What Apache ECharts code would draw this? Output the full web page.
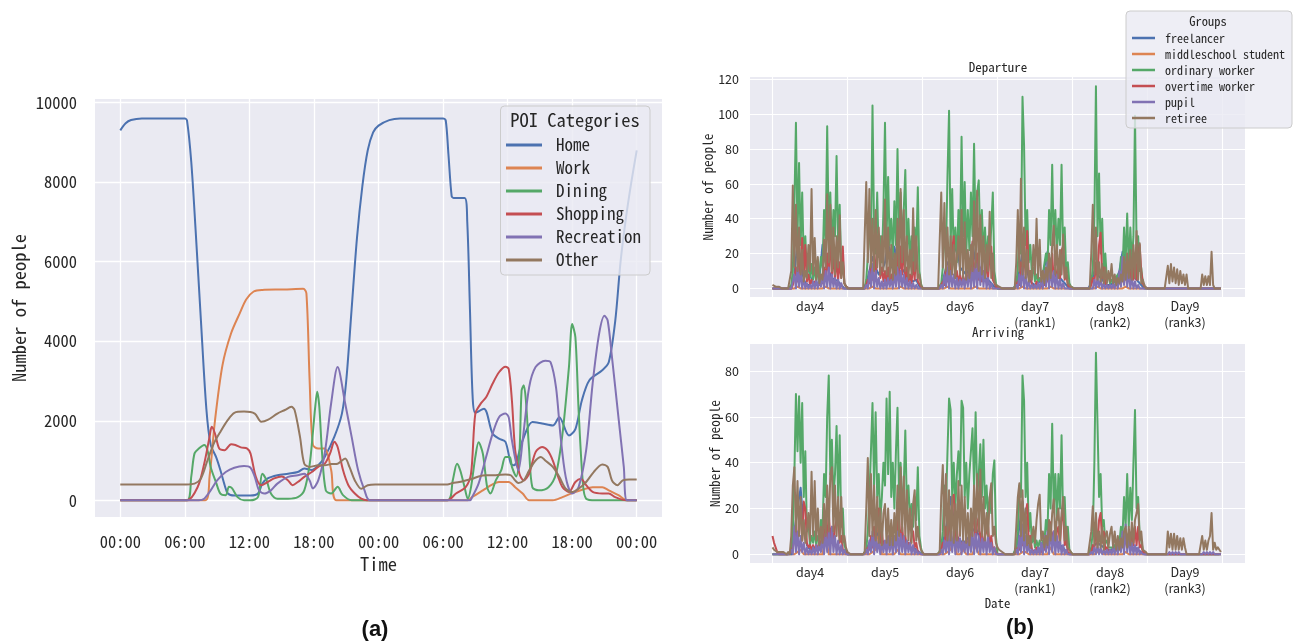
<!DOCTYPE html>
<html>
<head>
<meta charset="utf-8">
<script src="https://cdn.jsdelivr.net/npm/echarts@6/dist/echarts.min.js"></script>
<style>
html,body{margin:0;padding:0;background:#ffffff;}
#chart{width:1299px;height:644px;}
</style>
</head>
<body>
<div id="chart"></div>
<script>
// ---------- (a) number of people at each POI category over two days ----------
const poiNames = ['Home', 'Work', 'Dining', 'Shopping', 'Recreation', 'Other'];
const hourTicks = [0, 6, 12, 18, 24, 30, 36, 42, 48];
const countTicks = [0, 2000, 4000, 6000, 8000, 10000];

// [hour, people]
const homeCount = [[0,9300],[0.5,9480],[1,9560],[2,9600],[6,9600],[6.2,9550],[6.6,8500],[7,6800],[7.5,4500],[8,2300],[8.4,1400],[8.9,1090],[9.3,760],[9.7,380],[10,170],[10.6,120],[12.1,120],[12.8,170],[13.2,420],[13.7,550],[14.6,630],[15.6,670],[16.5,710],[17.1,800],[17.8,760],[18.4,880],[19,1090],[19.9,1600],[20.6,2180],[21,3000],[21.5,4800],[22,6600],[22.5,7900],[23,8800],[23.5,9250],[24,9420],[25,9560],[26,9600],[30,9600],[30.25,9550],[30.5,8700],[30.8,7650],[31,7600],[32,7600],[32.25,7000],[32.5,4800],[32.75,2600],[33,2200],[33.8,2300],[34.6,1680],[35.2,1550],[35.8,1470],[36.3,920],[36.6,880],[37.4,1510],[38.3,1970],[39.2,1930],[40.2,1880],[40.8,2090],[41.7,1630],[42.3,1790],[42.9,2510],[43.6,3020],[44.8,3270],[45.4,3470],[46,4500],[46.5,6000],[47,7100],[47.5,8000],[48,8800]];
const workCount = [[0,0],[7.9,0],[8.3,600],[8.8,2000],[9.5,3400],[10.3,4200],[11.1,4700],[11.7,5050],[12.4,5250],[13.2,5290],[15.2,5300],[17,5320],[17.3,5200],[17.6,3000],[17.9,1400],[18.4,1300],[19,1300],[19.6,760],[20.1,0],[32.3,0],[32.7,80],[33.7,250],[34.6,400],[35.2,460],[36.1,460],[36.7,330],[37.4,170],[38,0],[40.2,0],[41.1,80],[42,180],[43,270],[43.9,330],[44.8,330],[45.4,250],[46.3,130],[47.1,0],[48,0]];
const diningCount = [[0,0],[6.2,0],[6.6,600],[6.9,1180],[7.3,1300],[7.8,1390],[8.1,1260],[8.4,840],[8.9,450],[9.3,170],[9.8,130],[10.1,340],[10.4,300],[10.9,80],[11.5,0],[12.1,0],[12.8,80],[13.2,670],[13.6,500],[14,170],[14.6,40],[15.6,40],[16.5,80],[17.1,250],[17.6,900],[17.9,1700],[18.1,2300],[18.3,2730],[18.5,2350],[18.75,1200],[19.1,250],[19.6,170],[20.2,340],[20.7,130],[21.5,0],[30.4,0],[30.9,500],[31.3,920],[31.6,750],[32,330],[32.3,40],[32.6,330],[33,1090],[33.3,1460],[33.7,1170],[34.1,330],[34.4,170],[34.9,500],[35.4,750],[35.8,1090],[36.2,1090],[36.4,840],[36.8,600],[37.1,1200],[37.3,2760],[37.5,2890],[37.7,2510],[38,1260],[38.3,330],[38.9,250],[39.8,330],[40.5,670],[41.1,1670],[41.7,3350],[42,4430],[42.3,4100],[42.6,2260],[43,420],[43.3,40],[44.2,0],[48,0]];
const shoppingCount = [[0,0],[6.2,0],[7.2,340],[7.8,920],[8.3,1600],[8.5,1850],[8.8,1680],[9.2,1300],[9.7,1260],[10.3,1410],[10.7,1390],[11.2,1330],[11.8,1300],[12.1,1180],[12.6,590],[13.1,380],[13.7,460],[14.3,550],[15,600],[15.6,500],[16,380],[16.5,460],[17.1,590],[17.8,710],[18.4,840],[19,920],[19.5,1180],[19.9,1470],[20.2,1340],[20.7,760],[21.2,380],[21.8,170],[22.4,40],[22.9,0],[30.4,0],[31.2,170],[32.1,330],[32.6,670],[33,2180],[33.5,2430],[34,2590],[34.6,2930],[35.2,3220],[35.8,3360],[36.1,3300],[36.4,2510],[36.7,1260],[37.1,670],[37.5,500],[38,670],[38.6,1210],[39.2,1340],[39.7,1260],[40.2,1000],[40.7,590],[41.1,330],[41.7,210],[42.3,460],[42.8,540],[43.3,380],[43.9,210],[44.8,170],[45.4,170],[46,80],[47,0],[48,0]];
const recreationCount = [[0,0],[7.3,0],[7.8,40],[8.4,250],[9,500],[9.8,710],[10.6,820],[11.5,860],[12.1,820],[12.5,590],[12.9,250],[13.4,170],[14,250],[14.6,420],[15.6,590],[16.5,630],[17.1,670],[17.6,500],[17.9,300],[18.4,500],[19,1180],[19.6,2440],[20.2,3350],[20.9,2440],[21.5,1600],[22.1,760],[22.7,250],[23.2,0],[32.5,0],[32.7,80],[33.3,420],[34,1090],[34.6,1670],[35.2,2090],[35.8,2180],[36.1,2090],[36.4,1510],[37,750],[37.4,1510],[38,2840],[38.6,3350],[39.5,3510],[40,3470],[40.5,2840],[40.9,1670],[41.4,590],[42,170],[42.6,330],[43.3,1260],[43.9,2930],[44.5,4180],[45,4640],[45.3,4520],[45.7,3600],[46.3,2090],[46.8,840],[47.1,0],[48,0]];
const otherCount = [[0,400],[6.1,400],[6.9,420],[7.5,550],[8.1,1000],[8.7,1430],[9.3,1720],[10,2020],[10.6,2200],[11.5,2230],[12.5,2180],[13.1,1975],[13.7,2020],[14.6,2180],[15.3,2270],[15.9,2350],[16.2,2270],[16.7,1600],[17.1,920],[17.6,840],[18.4,880],[19,880],[19.6,910],[20.2,920],[20.9,1050],[21.3,840],[21.8,500],[22.4,290],[23,380],[23.7,400],[30.4,400],[30.9,435],[31.5,460],[32.1,500],[32.7,540],[33.3,600],[34,630],[34.9,630],[35.8,650],[36.3,630],[36.7,500],[37,435],[37.5,500],[38,750],[38.6,1000],[39.1,1090],[39.5,1000],[40.2,840],[40.8,590],[41.4,290],[42,210],[42.6,290],[43.3,460],[44,710],[44.8,900],[45.3,840],[45.7,500],[46.2,380],[46.7,500],[47.3,520],[48,520]];

// ---------- (b) departures / arrivals per group, day4 .. Day9 ----------
const groupNames = ['freelancer', 'middleschool student', 'ordinary worker', 'overtime worker', 'pupil', 'retiree'];
const dayBounds = [0, 24, 48, 72, 96, 120, 144];
const dayCentres = [12, 36, 60, 84, 108, 132];
const dayLabels = ['day4', 'day5', 'day6', 'day7\n(rank1)', 'day8\n(rank2)', 'Day9\n(rank3)'];
const depTicks = [0, 20, 40, 60, 80, 100, 120];
const arrTicks = [0, 20, 40, 60, 80];

// Departure, half-hourly (48 per day)
const depOrdinary = [
  [0,0,0,0,0,0,0,0,0,0,0,0, 2,10,48,95,30,72,25,55,15,30,8,14, 6,14,5,12,4,10,8,18,12,45,28,93, 30,55,22,45,30,76,25,48,10,18,3,1],
  [0,0,0,0,0,0,0,0,0,0,0,0, 5,18,40,22,105,35,20,55,18,30,15,45, 95,30,64,25,40,18,50,25,80,30,55,25, 45,68,20,40,15,30,12,35,20,58,10,3],
  [0,0,0,0,0,0,0,0,0,0,0,0, 3,12,35,20,65,102,25,57,18,35,15,45, 25,87,30,61,20,45,22,55,30,83,30,55, 62,25,45,20,35,15,30,18,35,55,10,3],
  [0,0,0,0,0,0,0,0,0,0,0,0, 2,12,35,20,110,82,25,45,15,25,8,12, 4,8,4,6,4,8,8,20,12,45,25,71, 25,45,20,40,25,71,20,35,8,15,3,1],
  [0,0,0,0,0,0,0,0,0,0,0,0, 3,12,40,116,30,66,20,40,10,20,5,8, 3,5,3,5,4,8,6,18,10,35,15,43, 12,35,15,30,99,25,30,10,12,3,1,0],
  [0,0,0,0,0,0,0,0,0,0,0,0, 0,0,0,0,0,0,0,0,0,0,0,0, 0,0,0,0,0,0,0,0,0,0,0,0, 0,0,0,0,0,0,0,0,0,0,0,0]
];
const depOvertime = [
  [0,0,0,0,0,0,0,0,0,0,0,0, 0,2,6,12,4,18,5,29,8,25,4,8, 2,5,2,4,2,3,2,6,3,12,5,20, 8,33,6,22,5,18,5,15,6,24,3,1],
  [0,0,0,0,0,0,0,0,0,0,0,0, 2,5,3,15,5,20,6,25,31,6,12,4, 10,3,12,3,8,4,15,5,26,6,24,8, 26,5,12,4,8,3,15,5,24,4,5,1],
  [0,0,0,0,0,0,0,0,0,0,0,0, 1,4,2,12,4,18,5,22,30,6,10,3, 8,3,7,2,8,3,15,5,27,6,15,20, 5,12,4,10,5,15,6,20,24,5,4,1],
  [0,0,0,0,0,0,0,0,0,0,0,0, 1,4,2,15,5,22,8,33,6,10,2,3, 1,4,1,2,1,4,2,10,4,18,5,20, 4,12,4,15,5,22,24,5,8,2,1,0],
  [0,0,0,0,0,0,0,0,0,0,0,0, 2,6,3,15,5,25,32,6,12,3,3,1, 2,1,2,1,3,1,5,2,10,3,10,4, 14,4,16,5,20,5,18,25,10,3,1,0],
  [0,0,0,0,0,0,0,0,0,0,0,0, 0,0,0,0,0,0,0,0,0,0,0,0, 0,0,0,0,0,0,0,0,0,0,0,0, 0,0,0,0,0,0,0,0,0,0,0,0]
];
const depPupil = [
  [0,0,0,0,0,0,0,0,0,0,0,0, 0,1,8,0,12,1,10,0,6,0,3,0, 2,0,4,0,5,0,6,1,8,0,10,1, 12,0,8,1,6,0,5,0,3,0,1,0],
  [0,0,0,0,0,0,0,0,0,0,0,0, 2,0,10,1,14,0,10,1,6,0,4,0, 5,0,6,1,5,0,8,1,12,0,10,1, 8,0,6,0,4,0,3,0,2,0,0,0],
  [0,0,0,0,0,0,0,0,0,0,0,0, 2,0,8,1,12,0,10,1,8,0,6,0, 5,1,6,0,8,1,10,0,12,1,14,0, 16,2,17,1,10,0,6,0,3,0,1,0],
  [0,0,0,0,0,0,0,0,0,0,0,0, 2,0,8,1,12,0,8,0,4,0,2,0, 2,0,3,0,5,0,10,1,15,0,12,1, 10,0,8,0,5,0,3,0,1,0,0,0],
  [0,0,0,0,0,0,0,0,0,0,0,0, 1,0,5,0,6,1,5,0,3,0,2,0, 2,0,3,0,5,0,10,1,18,2,15,1, 10,0,6,0,4,0,2,0,1,0,0,0],
  [0,0,0,0,0,0,0,0,0,0,0,0, 0,0,0,0,0,0,0,0,0,0,0,0, 0,0,0,0,0,0,0,0,0,0,0,0, 0,0,0,0,0,0,0,0,0,0,0,0]
];
const depRetiree = [
  [2,1,1,0,1,0,0,0,0,0,0,0, 10,59,12,48,10,35,8,22,4,10,6,25, 10,57,8,29,5,18,3,8,5,28,12,54, 15,48,10,35,8,30,12,42,6,15,3,2],
  [0,0,0,0,0,0,0,0,0,0,0,1, 61,15,57,12,40,10,45,12,35,8,30,10, 51,8,35,6,25,5,20,8,40,12,57,15, 45,10,30,6,22,8,46,10,30,6,8,2],
  [0,0,0,0,0,0,0,0,0,0,0,1, 55,12,49,10,35,8,30,8,25,6,18,30, 8,45,6,38,5,22,6,25,10,50,12,56, 10,42,8,30,6,25,10,44,6,20,4,2],
  [2,1,2,0,0,0,0,0,0,0,0,0, 15,45,10,63,8,35,6,22,4,10,5,25, 8,40,6,28,4,10,3,12,5,20,6,25, 36,8,25,6,22,8,31,6,12,3,3,1],
  [0,0,0,0,0,0,0,0,0,0,0,0, 20,48,8,35,5,15,4,14,3,12,3,10, 4,14,3,8,2,6,3,8,4,18,5,20, 6,22,5,25,6,33,5,26,3,5,2,0],
  [0,0,0,0,0,0,0,0,0,0,0,0, 0,13,3,14,4,12,3,11,2,10,3,8, 2,8,0,0,0,0,0,0,0,0,0,8, 2,7,2,7,2,21,2,0,0,0,0,0]
];
// Departure, hourly (24 per day)
const depFreelancer = [
  [0,0,0,0,0,0,0,8,27,15,5,2,2,8,10,6,25,15,10,6,5,4,2,0],
  [0,0,0,0,0,0,3,10,18,12,8,10,15,28,12,24,15,12,10,6,5,4,5,1],
  [0,0,0,0,0,0,2,8,15,12,20,25,12,10,8,12,26,15,10,8,6,5,3,1],
  [0,0,0,0,0,0,2,10,21,15,6,3,2,3,5,12,21,15,10,8,6,4,2,0],
  [0,0,0,0,0,0,3,10,8,6,4,2,2,3,5,10,21,18,10,8,6,4,2,0],
  [0,0,0,0,0,0,0,0,0,0,0,0,0,0,0,0,0,0,0,0,0,0,0,0]
];
const depStudent = [
  [0,0,0,0,0,0,0,0,1,0,0,0,0,0,0,0,0,1,0,0,0,0,0,0],
  [0,0,0,0,0,0,0,0,1,0,0,0,0,0,0,0,0,1,0,0,0,0,0,0],
  [0,0,0,0,0,0,0,0,1,0,0,0,0,0,0,0,0,1,0,0,0,0,0,0],
  [0,0,0,0,0,0,0,0,1,0,0,0,0,0,0,0,0,1,0,0,0,0,0,0],
  [0,0,0,0,0,0,0,0,1,0,0,0,0,0,0,0,0,1,0,0,0,0,0,0],
  [0,0,0,0,0,0,0,0,0,0,0,0,0,0,0,0,0,0,0,0,0,0,0,0]
];

// Arriving, half-hourly (48 per day)
const arrOrdinary = [
  [0,0,0,0,0,0,0,0,0,0,0,0, 2,10,35,70,45,69,40,66,25,45,10,15, 4,8,5,10,4,8,6,15,10,35,25,60, 78,35,50,25,35,56,25,52,12,20,4,2],
  [0,0,0,0,0,0,0,0,0,0,0,0, 2,10,25,45,66,30,62,25,35,15,25,40, 30,68,35,71,25,40,20,45,64,25,40,20, 30,54,20,30,15,22,12,25,15,38,8,3],
  [0,0,0,0,0,0,0,0,0,0,0,0, 3,10,30,20,45,68,63,25,40,20,35,45, 30,67,64,25,40,20,35,45,55,30,62,25, 35,48,25,50,20,30,15,25,18,35,41,8],
  [0,0,0,0,0,0,0,0,0,0,0,0, 3,10,30,25,78,67,25,40,10,18,5,8, 3,6,3,6,3,6,5,15,10,35,20,57, 20,35,15,35,20,52,15,25,6,12,2,1],
  [0,0,0,0,0,0,0,0,0,0,0,0, 3,10,40,88,57,25,35,12,15,5,6,3, 3,3,2,4,3,6,5,12,8,25,12,35, 12,29,15,40,63,20,25,8,6,2,1,0],
  [0,0,0,0,0,0,0,0,0,0,0,0, 0,0,0,0,0,0,0,0,0,0,0,0, 0,0,0,0,0,0,0,0,0,0,0,0, 0,0,0,0,0,0,0,0,0,0,0,0]
];
const arrOvertime = [
  [8,5,3,1,0,0,0,0,0,0,0,0, 1,3,6,10,4,15,20,6,23,20,5,3, 4,2,4,2,4,2,6,3,10,4,15,5, 19,6,12,4,12,15,18,5,8,2,2,1],
  [0,0,0,0,0,0,0,0,0,0,0,0, 1,3,2,8,3,12,4,16,20,5,10,3, 5,2,5,2,5,2,8,3,14,16,5,12, 4,8,3,5,3,8,10,3,5,1,1,0],
  [0,0,0,0,0,0,0,0,0,0,0,0, 2,5,3,12,4,18,6,24,26,6,12,3, 6,2,6,2,6,3,10,4,14,16,5,14, 16,4,10,3,8,10,12,3,8,2,3,1],
  [0,0,0,0,0,0,0,0,0,0,0,0, 1,3,2,10,4,16,18,22,5,8,2,2, 1,3,1,2,1,4,2,8,3,12,14,4, 10,3,10,12,4,16,18,4,6,1,1,0],
  [0,0,0,0,0,0,0,0,0,0,0,0, 1,4,2,12,4,15,18,5,10,2,3,1, 2,1,2,1,3,1,5,2,8,3,8,3, 9,3,10,4,12,4,12,3,4,1,1,0],
  [0,0,0,0,0,0,0,0,0,0,0,0, 0,0,0,0,0,0,0,0,0,0,0,0, 0,0,0,0,0,0,0,0,0,0,0,0, 0,0,0,0,0,0,0,0,0,0,0,0]
];
const arrPupil = [
  [0,0,0,0,0,0,0,0,0,0,0,0, 2,0,12,1,10,0,8,1,5,0,3,0, 2,0,3,0,4,0,5,1,7,0,9,1, 10,0,12,1,8,0,6,0,4,0,2,0],
  [0,0,0,0,0,0,0,0,0,0,0,0, 2,0,6,1,10,0,8,1,6,0,5,1, 6,0,8,1,7,0,8,1,10,0,9,1, 8,0,6,1,5,0,4,0,2,0,1,0],
  [0,0,0,0,0,0,0,0,0,0,0,0, 2,0,6,1,8,0,10,1,10,0,8,1, 7,0,6,1,7,0,8,1,10,0,9,1, 8,0,7,1,8,0,8,1,5,0,3,0],
  [0,0,0,0,0,0,0,0,0,0,0,0, 2,0,8,1,13,0,8,1,4,0,2,0, 2,0,3,0,5,0,8,1,10,0,12,1, 10,0,8,1,6,0,4,0,2,0,0,0],
  [0,0,0,0,0,0,0,0,0,0,0,0, 1,0,3,0,4,0,3,0,2,0,2,0, 2,0,3,0,4,0,6,1,10,0,13,1, 8,0,5,0,4,0,3,0,1,0,0,0],
  [0,0,0,0,0,0,0,0,0,0,0,0, 0,0,1,0,1,0,1,0,1,0,0,0, 0,0,0,0,0,0,0,0,0,0,0,0, 1,0,1,0,1,0,1,0,0,0,0,0]
];
const arrRetiree = [
  [3,2,2,1,1,1,1,1,1,0,1,0, 8,30,38,10,32,8,25,6,15,5,10,18, 6,36,8,32,6,20,4,12,5,22,8,30, 10,35,38,10,30,8,25,6,25,5,8,3],
  [1,1,0,0,0,0,0,0,0,0,0,1, 20,42,8,35,8,30,6,25,5,20,4,18, 22,5,20,4,15,4,18,6,30,8,38,10, 34,8,28,6,20,5,22,28,6,12,5,2],
  [1,0,0,0,0,0,0,0,0,0,0,1, 25,39,8,35,6,28,6,25,5,22,6,32, 8,30,6,25,5,18,4,20,8,30,10,35, 10,37,8,25,6,18,8,25,31,8,12,5],
  [3,2,2,1,1,0,0,0,0,0,0,0, 12,25,31,8,28,6,20,4,8,3,8,12, 5,15,22,26,6,10,3,8,4,15,6,18, 24,6,16,20,6,18,25,6,12,3,3,1],
  [0,0,0,0,0,0,0,0,0,0,0,0, 10,21,4,18,3,10,3,12,2,8,10,3, 9,12,3,10,2,8,2,7,3,10,12,3, 12,4,14,5,15,18,22,6,10,2,2,1],
  [0,0,0,0,0,0,0,0,0,0,0,0, 0,10,3,9,2,9,2,8,2,7,2,7, 3,0,0,0,0,0,0,0,0,0,0,8, 2,6,2,6,8,18,2,5,2,3,2,1]
];
// Arriving, hourly (24 per day)
const arrFreelancer = [
  [0,0,0,0,0,0,0,10,20,29,12,4,2,2,3,2,4,6,8,6,4,3,2,1],
  [0,0,0,0,0,0,2,5,8,10,8,6,5,6,8,10,12,8,6,4,3,3,2,1],
  [0,0,0,0,0,0,2,8,15,25,15,8,6,5,6,8,10,12,8,6,5,4,3,2],
  [0,0,0,0,0,0,2,12,23,10,5,2,1,2,3,5,8,10,8,6,4,3,1,0],
  [0,0,0,0,0,0,1,4,5,4,3,2,2,2,3,5,8,6,4,3,3,2,1,0],
  [0,0,0,0,0,0,0,0,0,0,0,0,0,0,0,0,0,0,0,0,0,0,0,0]
];
const arrStudent = [
  [0,0,0,0,0,0,0,0,1,2,0,0,0,0,0,0,0,9,0,0,0,0,0,0],
  [0,0,0,0,0,0,0,0,1,2,13,0,0,0,0,0,2,0,0,0,0,0,0,0],
  [0,0,0,0,0,0,0,0,1,2,8,0,0,2,0,0,0,4,0,0,0,0,0,0],
  [0,0,0,0,0,0,0,0,1,1,0,0,0,0,0,0,0,3,0,0,0,0,0,0],
  [0,0,0,0,0,0,0,0,1,1,0,0,0,0,0,0,0,1,0,0,0,0,0,0],
  [0,0,0,0,0,0,0,0,0,0,0,0,0,0,0,0,0,0,0,0,0,0,0,0]
];

// ---------- styling ----------
const MONO = '"Noto Sans Mono CJK SC", "DejaVu Sans Mono", monospace';
const SANS = '"Noto Sans CJK SC", "Noto Sans", sans-serif';
const INK = '#262626';
const PALETTE = ['#4C72B0', '#DD8452', '#55A868', '#C44E52', '#8172B3', '#937860'];
const PANEL_BG = '#EAEAF2';

// day-by-day samples -> [hour, value] pairs along the 6-day axis
function timeline(days, step) {
  const out = [];
  days.forEach((vals, d) => vals.forEach((v, j) => out.push([d * 24 + j * step, v])));
  return out;
}

function line(name, data, color, axis, width, smooth, z) {
  return {
    type: 'line', name, data, xAxisIndex: axis, yAxisIndex: axis,
    showSymbol: false, symbol: 'none', smooth: smooth || false,
    lineStyle: { width, color, join: 'round' }, itemStyle: { color },
    emphasis: { disabled: true }, silent: true, z: z || 2
  };
}

const poiData = [homeCount, workCount, diningCount, shoppingCount, recreationCount, otherCount];
const depData = [
  timeline(depFreelancer, 1), timeline(depStudent, 1), timeline(depOrdinary, 0.5),
  timeline(depOvertime, 0.5), timeline(depPupil, 0.5), timeline(depRetiree, 0.5)
];
const arrData = [
  timeline(arrFreelancer, 1), timeline(arrStudent, 1), timeline(arrOrdinary, 0.5),
  timeline(arrOvertime, 0.5), timeline(arrPupil, 0.5), timeline(arrRetiree, 0.5)
];

const series = [];
poiNames.forEach((n, i) => series.push(line(n, poiData[i], PALETTE[i], 0, 2, 0.3)));
// the student line sits underneath the other groups
groupNames.forEach((n, i) => series.push(line(n, depData[i], PALETTE[i], 1, 2, false, i === 1 ? 1 : 2)));
groupNames.forEach((n, i) => series.push(line(n, arrData[i], PALETTE[i], 2, 2, false, i === 1 ? 1 : 2)));

const whiteGrid = { show: true, lineStyle: { color: '#ffffff', width: 1.3 } };
const noLine = { show: false };

function dayAxis(grid, extra) {
  return Object.assign({
    gridIndex: grid, type: 'value', min: -7.2, max: 151.2,
    axisLine: noLine,
    axisTick: { show: false, customValues: dayBounds },
    axisLabel: {
      customValues: dayCentres,
      formatter: v => dayLabels[dayCentres.indexOf(v)],
      fontFamily: SANS, fontSize: 12.5, lineHeight: 16, color: INK, margin: 1
    },
    splitLine: { show: true, lineStyle: { color: '#ffffff', width: 1.1 } }
  }, extra || {});
}

function countAxis(grid, min, max, ticks, gap) {
  return {
    gridIndex: grid, type: 'value', min, max,
    axisLine: noLine,
    axisTick: { show: false, customValues: ticks },
    axisLabel: { customValues: ticks, formatter: v => String(v), fontFamily: SANS, fontSize: 12.5, color: INK, margin: 11 },
    splitLine: { show: true, lineStyle: { color: '#ffffff', width: 1.1 } },
    name: 'Number of people', nameLocation: 'middle', nameRotate: 90, nameGap: gap,
    nameTextStyle: { fontFamily: MONO, fontSize: 13.4, color: INK }
  };
}

const option = {
  animation: false,
  backgroundColor: '#ffffff',
  grid: [
    { left: 95, top: 99, width: 567, height: 418, show: true, backgroundColor: PANEL_BG, borderWidth: 0 },
    { left: 750, top: 77, width: 495, height: 220, show: true, backgroundColor: PANEL_BG, borderWidth: 0 },
    { left: 750, top: 344, width: 495, height: 219, show: true, backgroundColor: PANEL_BG, borderWidth: 0 }
  ],
  xAxis: [
    {
      gridIndex: 0, type: 'value', min: -2.35, max: 50.35,
      axisLine: noLine,
      axisTick: { show: false, customValues: hourTicks },
      axisLabel: {
        customValues: hourTicks,
        formatter: v => String(v % 24).padStart(2, '0') + ':00',
        fontFamily: MONO, fontSize: 16.5, color: INK, margin: 16
      },
      splitLine: whiteGrid,
      name: 'Time', nameLocation: 'middle', nameGap: 35,
      nameTextStyle: { fontFamily: MONO, fontSize: 18.5, color: INK }
    },
    dayAxis(1),
    dayAxis(2, { name: 'Date', nameLocation: 'middle', nameGap: 24, nameTextStyle: { fontFamily: MONO, fontSize: 12.8, color: INK } })
  ],
  yAxis: [
    {
      gridIndex: 0, type: 'value', min: -420, max: 10090,
      axisLine: noLine,
      axisTick: { show: false, customValues: countTicks },
      axisLabel: { customValues: countTicks, formatter: v => String(v), fontFamily: MONO, fontSize: 16.5, color: INK, margin: 18 },
      splitLine: whiteGrid,
      name: 'Number of people', nameLocation: 'middle', nameRotate: 90, nameGap: 67,
      nameTextStyle: { fontFamily: MONO, fontSize: 18.5, color: INK }
    },
    countAxis(1, -4.9, 121.3, depTicks, 33),
    countAxis(2, -3.8, 91.8, arrTicks, 27)
  ],
  legend: [
    {
      data: poiNames, orient: 'vertical', left: 506, top: 136, padding: 0,
      itemGap: 5, itemWidth: 45, itemHeight: 3,
      icon: 'path://M0,0H36V3H0Z M45,0V3',
      itemStyle: { borderWidth: 0, borderColor: 'transparent' },
      textStyle: { fontFamily: MONO, fontSize: 17, lineHeight: 18, color: INK },
      selectedMode: false, z: 20
    },
    {
      data: groupNames, orient: 'vertical', left: 1132, top: 31, padding: 0,
      itemGap: 2, itemWidth: 28, itemHeight: 2.5,
      icon: 'path://M0,0H23V2.5H0Z M28,0V2.5',
      itemStyle: { borderWidth: 0, borderColor: 'transparent' },
      textStyle: { fontFamily: MONO, fontSize: 12, lineHeight: 14, color: INK },
      selectedMode: false, z: 20
    }
  ],
  graphic: [
    { type: 'rect', z: 10, shape: { x: 500.5, y: 106, width: 149.5, height: 169, r: 4 },
      style: { fill: 'rgba(234,234,242,0.8)', stroke: '#cccccc', lineWidth: 1 } },
    { type: 'text', z: 11, x: 575, y: 120,
      style: { text: 'POI Categories', fontFamily: MONO, fontSize: 18.5, fill: INK, align: 'center', verticalAlign: 'middle' } },
    { type: 'rect', z: 10, shape: { x: 1126, y: 11, width: 166, height: 117, r: 4 },
      style: { fill: 'rgba(234,234,242,0.8)', stroke: '#cccccc', lineWidth: 1 } },
    { type: 'text', z: 11, x: 1208, y: 21,
      style: { text: 'Groups', fontFamily: MONO, fontSize: 12.5, fill: INK, align: 'center', verticalAlign: 'middle' } },
    { type: 'text', z: 11, x: 998, y: 67,
      style: { text: 'Departure', fontFamily: MONO, fontSize: 13, fill: INK, align: 'center', verticalAlign: 'middle' } },
    { type: 'text', z: 11, x: 998, y: 332,
      style: { text: 'Arriving', fontFamily: MONO, fontSize: 13, fill: INK, align: 'center', verticalAlign: 'middle' } },
    { type: 'text', z: 11, x: 375, y: 630,
      style: { text: '(a)', fontFamily: '"Liberation Sans", Arial, sans-serif', fontWeight: 'bold', fontSize: 22, fill: '#111111', align: 'center', verticalAlign: 'middle' } },
    { type: 'text', z: 11, x: 1020, y: 628,
      style: { text: '(b)', fontFamily: '"Liberation Sans", Arial, sans-serif', fontWeight: 'bold', fontSize: 22, fill: '#111111', align: 'center', verticalAlign: 'middle' } }
  ],
  series
};

const chart = echarts.init(document.getElementById('chart'), null, { renderer: 'canvas' });
chart.setOption(option);
</script>
</body>
</html>
